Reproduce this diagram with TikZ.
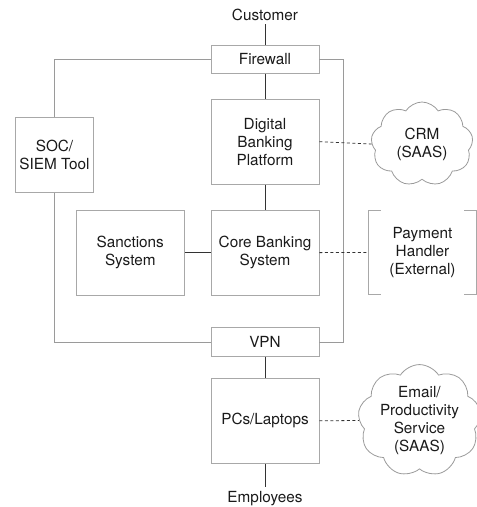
\documentclass[tikz,border=0pt]{standalone}
\usepackage{fontspec}
\setmainfont{TeX Gyre Heros}
\usetikzlibrary{shapes.symbols}
\definecolor{boxline}{HTML}{A8A8A8}
\definecolor{loopline}{HTML}{9A9A9A}
\definecolor{linkline}{HTML}{333333}
\definecolor{txt}{HTML}{1A1A1A}
\tikzset{
  every node/.style={font=\fontsize{15.3}{18}\selectfont, text=txt, align=center, inner sep=0pt},
  boxnode/.style={draw=boxline, line width=0.9pt, rectangle},
  cloudnode/.style={draw=loopline, line width=0.8pt, cloud, cloud puffs=9, cloud puff arc=115, cloud ignores aspect},
  link/.style={draw=linkline, line width=0.8pt},
  looplink/.style={draw=loopline, line width=0.9pt},
  dashlink/.style={draw=linkline, line width=0.8pt, dash pattern=on 3pt off 2.5pt},
  bracketline/.style={draw=boxline, line width=0.9pt}
}
\begin{document}
\begin{tikzpicture}[x=1pt,y=-1pt]
\useasboundingbox (0,0) rectangle (477,507);
\node (customer) at (265,15) {Customer};
\node[boxnode, minimum width=108pt, minimum height=27.5pt] (firewall) at (265,59.5) {Firewall};
\node[boxnode, minimum width=108pt, minimum height=85pt] (digital) at (265,141.7) {Digital\\Banking\\Platform};
\node[boxnode, minimum width=108pt, minimum height=85pt] (core) at (265,252.6) {Core Banking\\System};
\node[boxnode, minimum width=108.7pt, minimum height=85pt] (sanctions) at (130.3,252.6) {Sanctions\\System};
\node[boxnode, minimum width=77.6pt, minimum height=74.3pt] (soc) at (54.5,155) {SOC/\\SIEM Tool};
\node[boxnode, minimum width=108pt, minimum height=28.5pt] (vpn) at (265,342) {VPN};
\node[boxnode, minimum width=108pt, minimum height=85pt] (pcs) at (265,420.8) {PCs/Laptops};
\node (employees) at (265,499) {Employees};
\node[cloudnode, minimum width=102pt, minimum height=84pt] (crm) at (422,144) {CRM\\(SAAS)};
\node[minimum width=107pt, minimum height=83.6pt] (payment) at (422.5,252.5) {Payment\\Handler\\(External)};
\node[cloudnode, minimum width=114pt, minimum height=97pt] (email) at (419.5,420.5) {Email/\\Productivity\\Service\\(SAAS)};
% brackets of payment handler
\draw[bracketline] ([xshift=12pt]payment.north west) -- (payment.north west) -- (payment.south west) -- ([xshift=12pt]payment.south west);
\draw[bracketline] ([xshift=-12pt]payment.north east) -- (payment.north east) -- (payment.south east) -- ([xshift=-12pt]payment.south east);
% solid links
\draw[link] ([yshift=-3pt]customer.south) -- (firewall.north);
\draw[link] (firewall) -- (digital);
\draw[link] (digital) -- (core);
\draw[link] (sanctions) -- (core);
\draw[link] (vpn) -- (pcs);
\draw[link] (pcs.south) -- ([yshift=5pt]employees.north);
% loop around
\draw[looplink] (firewall.west) -| (soc.north);
\draw[looplink] (soc.south) |- (vpn.west);
\draw[looplink] (firewall.east) -- ++(24,0) coordinate (rtop) |- (vpn.east);
% dashed
\draw[dashlink] (digital.east) -- (crm.west);
\draw[dashlink] (core.east) -- (payment.west);
\draw[dashlink] (pcs.east) -- (email.west);
\end{tikzpicture}
\end{document}
